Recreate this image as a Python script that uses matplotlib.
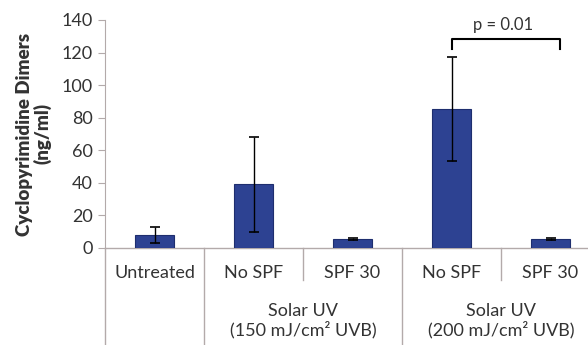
import matplotlib.pyplot as plt
import matplotlib.transforms as mtransforms
import numpy as np

plt.rcParams['font.family'] = ['Lato', 'DejaVu Sans']

# data
conditions = ['Untreated', 'No SPF', 'SPF 30', 'No SPF', 'SPF 30']
groups = ['Solar UV\n(150 mJ/cm\u00b2 UVB)', 'Solar UV\n(200 mJ/cm\u00b2 UVB)']
dimers = [8, 39, 5.5, 85.5, 5.5]
err = [5, 29, 0.6, 32, 0.6]
yticks = [0, 20, 40, 60, 80, 100, 120, 140]

bar_col = '#2D4292'
axis_col = '#B3AAAA'
txt_col = '#333333'

fig = plt.figure(figsize=(5.88, 3.45), dpi=100)
ax = fig.add_axes([105/588, 97/345, 495/588, 228/345])

x = np.arange(len(dimers))
ax.bar(x, dimers, width=0.4, color=bar_col, edgecolor='#1E2E6E', linewidth=0.8, zorder=2)
ax.errorbar(x, dimers, yerr=err, fmt='none', ecolor='black', elinewidth=1,
            capsize=3.5, capthick=1.2, zorder=3)

ax.set_xlim(-0.5, 4.5)
ax.set_ylim(0, 140)
ax.set_yticks(yticks)
ax.tick_params(axis='y', direction='out', length=5, color=axis_col, labelsize=13,
               labelcolor=txt_col, pad=4)
ax.set_xticks([])
for s in ['top', 'right', 'bottom']:
    ax.spines[s].set_visible(False)
ax.spines['left'].set_color(axis_col)
ax.axhline(0, color=axis_col, lw=1, zorder=1, clip_on=False)

ax.set_ylabel('Cyclopyrimidine Dimers\n(ng/ml)', fontsize=13.5, fontweight='heavy',
              color=txt_col, labelpad=7, linespacing=1.05)

# category axis below
trans = mtransforms.blended_transform_factory(ax.transData, ax.transAxes)
ax.plot([0, 0], [0, -0.43], color=axis_col, lw=1, transform=ax.transAxes, clip_on=False)
for b in [0.5, 2.5, 4.5]:
    ax.plot([b, b], [0, -0.43], color=axis_col, lw=1, transform=trans, clip_on=False)
for b in [1.5, 3.5]:
    ax.plot([b, b], [0, -0.14], color=axis_col, lw=1, transform=trans, clip_on=False)
for i, c in enumerate(conditions):
    ax.text(i, -0.11, c, transform=trans, ha='center', va='center', fontsize=13,
            color=txt_col)
for gx, g in zip([1.5, 3.5], groups):
    ax.text(gx, -0.318, g, transform=trans, ha='center', va='center', fontsize=13,
            color=txt_col, linespacing=1.15)

# significance bracket
ax.plot([3, 3, 4.1, 4.1], [122.5, 128.3, 128.3, 122.5], color='black', lw=1.5,
        clip_on=False, zorder=3)
ax.text(3.52, 137, 'p = 0.01', ha='center', va='center', fontsize=12, color=txt_col)

fig.savefig('out.png', dpi=100)
